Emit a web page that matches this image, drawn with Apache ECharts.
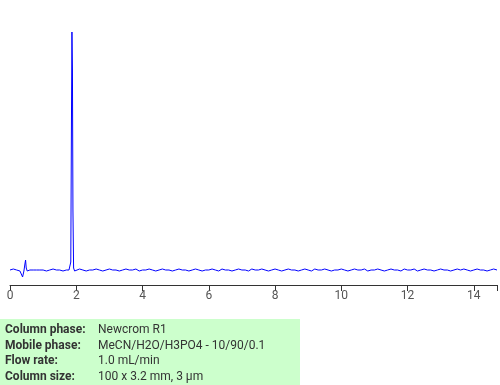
<!DOCTYPE html>
<html><head><meta charset="utf-8">
<script src="https://cdn.jsdelivr.net/npm/echarts@6/dist/echarts.min.js"></script>
<style>html,body{margin:0;padding:0;background:#fff}#c{width:500px;height:385px}</style>
</head><body><div id="c"></div>
<script>
// Baseline detector signal sampled every 0.1 min from 0 to 14.7 (arbitrary units)
const baseStep = 0.1;
const baseValues = [0,1,0,-1,0,1,0,0,0,0, 0,-1,0,1,0,0,-1,0,1,0,
  0,1,0,-1,0,0,1,0,-1,0, 1,0,0,-1,0,1,0,0,1,-1, 0,0,1,0,-1,0,1,0,0,-1,
  0,1,0,0,-1,0,1,0,-1,0, 0,1,0,-1,1,0,0,-1,0,1, 0,0,-1,1,0,0,1,0,-1,0,
  1,0,-1,0,1,0,0,-1,0,1, 0,-1,1,0,0,1,0,-1,0,0, 1,0,-1,0,1,0,0,1,-1,0,
  0,1,0,-1,0,1,0,0,-1,1, 0,0,1,-1,0,1,0,0,-1,0, 1,0,0,-1,0,1,0,1,0,-1,
  0,1,0,0,-1,0,1,0];
// Injection disturbance and main peak (time, signal)
const event1 = [[0.32,0],[0.35,-2],[0.38,-7],[0.42,-1],[0.45,6],[0.47,10],[0.49,2],[0.52,-1],[0.56,0]];
const event2 = [[1.78,0],[1.81,1],[1.835,8],[1.855,150],[1.87,238],[1.885,200],[1.90,60],[1.92,2],[1.95,-1],[1.98,0]];
const xTicks = [0,2,4,6,8,10,12,14];
const infoLabels = ["Column phase:","Mobile phase:","Flow rate:","Column size:"];
const infoValues = ["Newcrom R1","MeCN/H2O/H3PO4 - 10/90/0.1","1.0 mL/min","100 x 3.2 mm, 3 µm"];

let pts = [];
baseValues.forEach((v,i)=>{
  const t = +(i*baseStep).toFixed(2);
  if ((t>0.31 && t<0.58) || (t>1.76 && t<2.0)) return;
  pts.push([t,v]);
});
pts = pts.concat(event1, event2).sort((a,b)=>a[0]-b[0]);

const chart = echarts.init(document.getElementById('c'), null, {renderer:'canvas'});
const graphics = [{type:'rect', shape:{x:0,y:319,width:300,height:66}, style:{fill:'#ccffcc'}, z:0}];
infoLabels.forEach((l,i)=>{
  graphics.push({type:'text', x:5, y:330+15.7*i, style:{text:l, font:'bold 12px Roboto', fill:'#333', verticalAlign:'middle'}, z:1});
  graphics.push({type:'text', x:98, y:330+15.7*i, style:{text:infoValues[i], font:'12px Roboto', fill:'#333', verticalAlign:'middle'}, z:1});
});
chart.setOption({
  animation:false,
  grid:{left:10,right:0,top:20,bottom:100},
  xAxis:{type:'value', min:0, max:14.7, interval:2,
    axisLine:{onZero:false, lineStyle:{color:'#333',width:1}},
    axisTick:{length:6,lineStyle:{color:'#333'}},
    axisLabel:{color:'#555',fontSize:12,fontFamily:'Roboto',margin:5,
      formatter:v=>xTicks.includes(v)?String(v):''},
    splitLine:{show:false}},
  yAxis:{type:'value', min:-15, max:250, show:false, splitLine:{show:false}},
  series:[{type:'line', data:pts, showSymbol:false, symbol:'none',
    lineStyle:{color:'#0000ff',width:1}}],
  graphic:graphics
});
</script></body></html>
